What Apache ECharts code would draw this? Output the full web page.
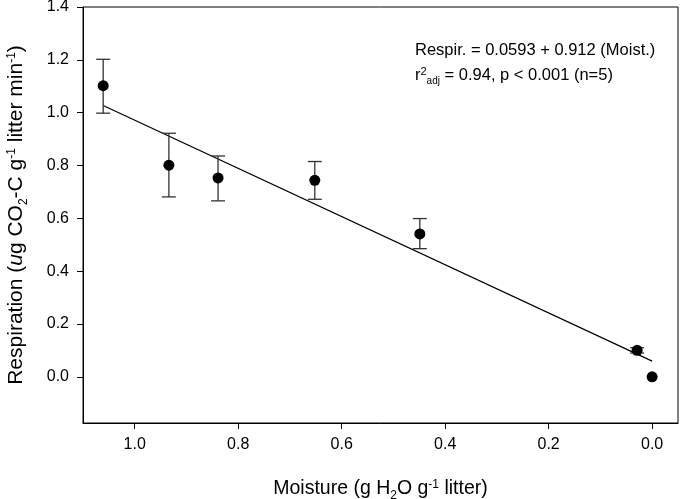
<!DOCTYPE html>
<html>
<head>
<meta charset="utf-8">
<script src="https://cdn.jsdelivr.net/npm/echarts@6/dist/echarts.min.js"></script>
<style>html,body{margin:0;padding:0;background:#fff}#c{width:680px;height:499px}</style>
</head>
<body>
<div id="c"></div>
<script>
// Data
const moisture = [1.061, 0.934, 0.839, 0.652, 0.449, 0.029, 0.0];
const respiration = [1.102, 0.801, 0.753, 0.744, 0.541, 0.100, 0.0];
const errUpper = [1.202, 0.922, 0.836, 0.815, 0.599, 0.110, null];
const errLower = [0.998, 0.681, 0.666, 0.672, 0.485, 0.090, null];
const fitX = [1.061, 0.0];
const fitY = [1.027, 0.0593];
const xTicks = [0.0, 0.2, 0.4, 0.6, 0.8, 1.0];
const yTicks = [0.0, 0.2, 0.4, 0.6, 0.8, 1.0, 1.2, 1.4];

const FONT = 'Liberation Sans';
const chart = echarts.init(document.getElementById('c'));

const errData = moisture.map((x, i) => [x, errLower[i], errUpper[i]]).filter(d => d[1] != null);

function titleRich(fs) {
  return {
    n: {fontFamily: FONT, fontSize: fs, color: '#000'},
    it: {fontFamily: FONT, fontSize: fs, fontStyle: 'italic', color: '#000'},
    sub: {fontFamily: FONT, fontSize: 12, color: '#000', verticalAlign: 'bottom', padding: [0,0,-3,0]},
    sup: {fontFamily: FONT, fontSize: 12, color: '#000', verticalAlign: 'top', padding: [0,0,0,0]}
  };
}

chart.setOption({
  animation: false,
  textStyle: {fontFamily: FONT, color: '#000'},
  grid: {left: 83, top: 7, right: 2, bottom: 76, containLabel: false, outerBoundsMode: 'none',
    show: true, borderColor: '#000', borderWidth: 1},
  xAxis: {
    type: 'value', inverse: true, min: -0.05, max: 1.1,
    axisLine: {show: true, onZero: false, lineStyle: {color: '#000', width: 1}},
    axisTick: {show: true, length: 6, lineStyle: {color: '#000'}, customValues: xTicks},
    axisLabel: {fontFamily: FONT, fontSize: 16, color: '#000', margin: 14, customValues: xTicks,
      formatter: v => v.toFixed(1)},
    splitLine: {show: false},
    name: '{n|Moisture (g H}{sub|2}{n|O g}{sup|-1}{n| litter)}',
    nameLocation: 'middle', nameGap: 56,
    nameTextStyle: {rich: titleRich(19.5)}
  },
  yAxis: {
    type: 'value', min: -0.175, max: 1.4,
    axisLine: {show: true, onZero: false, lineStyle: {color: '#000', width: 1}},
    axisTick: {show: true, length: 6, lineStyle: {color: '#000'}, customValues: yTicks},
    axisLabel: {fontFamily: FONT, fontSize: 16, color: '#000', margin: 14, customValues: yTicks,
      formatter: v => v.toFixed(1)},
    splitLine: {show: false},
    name: '{n|Respiration (}{it|u}{n|g CO}{sub|2}{n|-C g}{sup|-1}{n| litter min}{sup|-1}{n|)}',
    nameLocation: 'middle', nameGap: 56,
    nameTextStyle: {rich: titleRich(21)}
  },
  graphic: [{
    type: 'text', left: 415, top: 42,
    style: {
      text: '{n|Respir. = 0.0593 + 0.912 (Moist.)}\n{n|r}{sup|2}{sub|adj}{n| = 0.94, p < 0.001 (n=5)}',
      rich: {
        n: {fontFamily: FONT, fontSize: 16.5, fill: '#000', lineHeight: 25},
        sup: {fontFamily: FONT, fontSize: 11, fill: '#000', verticalAlign: 'top', padding: [3,0,0,0]},
        sub: {fontFamily: FONT, fontSize: 10, fill: '#000', verticalAlign: 'bottom', padding: [0,0,2,0]}
      }
    }
  }],
  series: [
    {
      type: 'line', data: fitX.map((x, i) => [x, fitY[i]]), symbol: 'none',
      lineStyle: {color: '#000', width: 1.2}, z: 2
    },
    {
      type: 'custom', data: errData, z: 3,
      renderItem: function (params, api) {
        const x = api.value(0);
        const lo = api.coord([x, api.value(1)]);
        const hi = api.coord([x, api.value(2)]);
        const w = 7;
        const st = {stroke: '#333', lineWidth: 1.3};
        return {type: 'group', children: [
          {type: 'line', shape: {x1: lo[0], y1: lo[1], x2: hi[0], y2: hi[1]}, style: st},
          {type: 'line', shape: {x1: lo[0]-w, y1: lo[1], x2: lo[0]+w, y2: lo[1]}, style: st},
          {type: 'line', shape: {x1: hi[0]-w, y1: hi[1], x2: hi[0]+w, y2: hi[1]}, style: st}
        ]};
      }
    },
    {
      type: 'scatter', data: moisture.map((x, i) => [x, respiration[i]]),
      symbol: 'circle', symbolSize: 11, itemStyle: {color: '#000', opacity: 1}, z: 4
    }
  ]
});
</script>
</body>
</html>
